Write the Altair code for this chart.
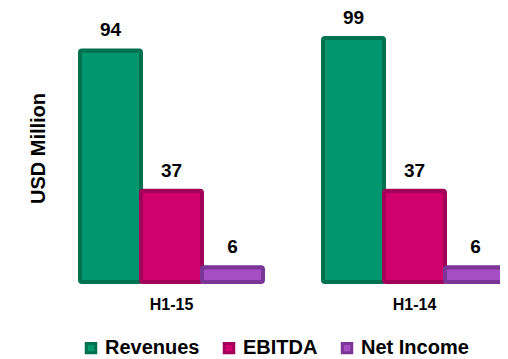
import altair as alt
import pandas as pd

periods = ["H1-15", "H1-14"]
series = ["Revenues", "EBITDA", "Net Income"]
revenues = [94, 99]
ebitda = [37, 37]
net_income = [6, 6]

fills = ["#00966e", "#d0006c", "#a64fc4"]
strokes = ["#00714f", "#a3005a", "#7b3597"]

rows = []
for i, p in enumerate(periods):
    for s, vals in zip(series, [revenues, ebitda, net_income]):
        rows.append({"period": p, "series": s, "value": vals[i]})
df = pd.DataFrame(rows)

FONT = "Liberation Sans"

x = alt.X("period:N", sort=periods, title=None,
          scale=alt.Scale(range=[0, 426], paddingInner=0.247, paddingOuter=0),
          axis=alt.Axis(labelFont=FONT, labelFontWeight="bold", labelFontSize=16,
                        labelColor="#000000", labelAngle=0, ticks=False, domain=False,
                        labelPadding=14))
xoff = alt.XOffset("series:N", sort=series, scale=alt.Scale(paddingInner=0, paddingOuter=0))
y = alt.Y("value:Q", scale=alt.Scale(domain=[0, 110], nice=False),
          axis=alt.Axis(title="USD Million", labels=False, ticks=False, domain=False, grid=False,
                        titleFont=FONT, titleFontWeight="bold", titleFontSize=20,
                        titleColor="#000000", titleAngle=-90, titleX=-42, titleY=137,
                        titleAlign="center", titleBaseline="middle"))

legend = alt.Legend(title=None, orient="none", direction="horizontal", legendX=1, legendY=327,
                    symbolType="square", symbolSize=90, symbolStrokeWidth=3,
                    labelFont=FONT, labelFontWeight="bold", labelFontSize=20, labelColor="#000000",
                    columnPadding=18, labelOffset=4, padding=0)

bars = alt.Chart(df).mark_bar(strokeWidth=4, cornerRadius=2, strokeJoin="round").encode(
    x=x, xOffset=xoff, y=y,
    fill=alt.Fill("series:N", sort=series, scale=alt.Scale(domain=series, range=fills), legend=legend),
    stroke=alt.Stroke("series:N", sort=series, scale=alt.Scale(domain=series, range=strokes), legend=legend),
)

labels = alt.Chart(df).mark_text(font=FONT, fontWeight="bold", fontSize=19, color="#000000",
                                 baseline="middle", dy=-20).encode(
    x=alt.X("period:N", sort=periods), xOffset=alt.XOffset("series:N", sort=series), y="value:Q",
    text="value:Q")

chart = (bars + labels).properties(
    width=420, height=271,
    autosize=alt.AutoSizeParams(type="none"),
    padding={"left": 72, "top": 3, "right": 0, "bottom": 76},
).configure_view(stroke=None)

chart.save("out.html", embed_options={"renderer": "svg", "actions": False})
